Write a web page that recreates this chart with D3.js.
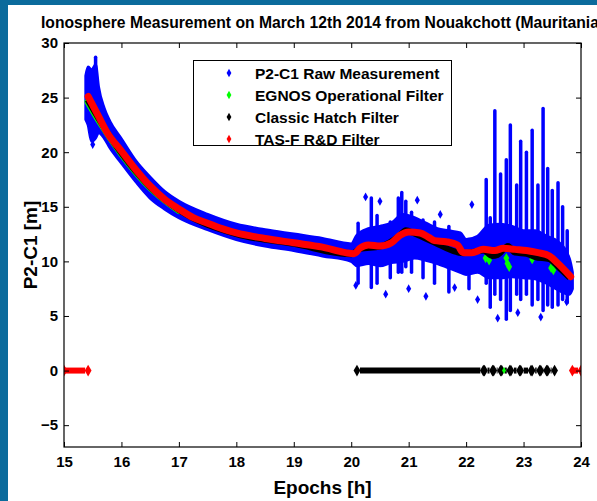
<!DOCTYPE html>
<html><head><meta charset="utf-8">
<script src="https://cdn.jsdelivr.net/npm/d3@7"></script>
<style>
html,body{margin:0;padding:0;background:#fff;}
svg{display:block;}
text{font-family:Arial,"Liberation Sans",sans-serif;}
</style></head>
<body>
<script>
// ---------- data ----------
const title = "Ionosphere Measurement on March 12th 2014 from Nouakchott (Mauritania";
const xLabel = "Epochs [h]";
const yLabel = "P2-C1 [m]";
const xTicks = [15,16,17,18,19,20,21,22,23,24];
const yTicks = [-5,0,5,10,15,20,25,30];
const seriesNames = ["P2-C1 Raw Measurement","EGNOS Operational Filter","Classic Hatch Filter","TAS-F R&D Filter"];
const seriesColors = ["#0000ff","#00ff00","#000000","#ff0000"];

// raw measurement dense cloud envelope
const rawEpochs = [15.38,15.42,15.48,15.55,15.6,15.7,15.8,16.0,16.25,16.5,16.75,17.0,17.5,18.0,18.5,19.0,19.5,20.0,20.1,20.3,20.5,20.7,20.9,21.1,21.3,21.5,21.7,21.9,22.0,22.2,22.4,22.6,22.8,23.0,23.2,23.4,23.6,23.8,23.85];
const rawLow    = [23.0,22.5,21.0,21.3,21.8,21.3,20.4,19.0,17.3,15.8,14.8,14.0,12.9,12.0,11.4,11.0,10.5,10.0,9.6,9.8,9.6,9.9,10.0,10.3,10.1,9.8,9.4,9.0,8.8,9.0,8.5,8.5,8.6,8.5,8.4,8.0,7.4,7.0,7.5];
const rawHigh   = [27.0,27.8,27.5,28.0,26.0,24.0,22.8,21.2,19.2,17.7,16.4,15.5,14.3,13.4,12.9,12.5,12.1,11.6,12.4,13.0,13.2,13.5,14.3,14.0,13.5,13.0,12.8,12.6,12.0,12.3,13.3,13.4,13.2,12.8,12.8,12.3,11.8,10.2,9.0];

// raw measurement vertical columns (epoch, low, high)
const spikeEpochs = [15.55,20.12,20.35,20.45,20.68,20.82,20.88,20.95,21.05,21.25,21.45,21.7,22.05,22.35,22.42,22.5,22.6,22.7,22.77,22.88,22.95,23.05,23.15,23.25,23.34,23.42,23.5,23.6,23.68,23.76];
const spikeLow    = [26.0,8.0,7.6,8.0,8.5,9.0,9.0,9.5,9.0,8.5,8.0,7.2,7.5,8.0,5.8,7.0,6.5,4.7,5.5,7.0,6.5,7.0,6.0,6.5,5.5,6.0,5.8,6.0,6.5,6.2];
const spikeHigh   = [28.7,13.5,15.8,14.2,13.6,15.8,16.3,15.5,14.5,13.8,13.6,13.2,12.0,17.5,14.0,23.8,18.0,19.3,22.5,17.0,21.0,20.0,22.0,17.0,24.0,18.5,16.5,17.2,15.0,12.8];

// raw measurement isolated points
const outlierEpochs = [15.5,20.08,20.25,20.6,21.0,21.3,21.55,21.8,22.1,22.2,22.55,22.9,23.3,23.75,20.5,21.15];
const outlierValues = [20.7,7.8,15.9,7.0,7.5,6.8,14.3,7.6,15.2,6.5,4.8,5.3,4.9,6.3,15.5,15.6];

// TAS-F R&D filter
const tasEpochs = [15.42,15.5,15.6,15.75,16.0,16.25,16.5,16.75,17.0,17.25,17.5,17.75,18.0,18.5,19.0,19.5,19.9,20.05,20.15,20.3,20.5,20.7,20.85,21.0,21.2,21.35,21.45,21.65,21.85,21.95,22.1,22.3,22.5,22.65,22.85,23.05,23.25,23.45,23.6,23.82];
const tasValues = [25.1,24.3,23.3,21.8,20.1,18.4,16.9,15.7,14.8,14.0,13.5,13.0,12.6,12.1,11.7,11.3,10.8,10.7,11.2,11.5,11.4,11.7,12.4,12.7,12.6,12.2,11.9,11.8,11.5,10.8,10.8,11.1,11.0,11.2,11.1,11.0,10.8,10.5,9.8,8.6];
const tasZeroStart = [15.0,23.85];
const tasZeroEnd   = [15.42,24.0];

// Classic Hatch filter
const hatchEpochs = [15.41,15.6,16.0,16.5,17.0,18.0,19.0,20.0,20.15,20.5,20.85,20.95,21.1,21.4,21.95,22.3,22.45,22.55,22.73,22.85,23.05,23.2,23.45,23.6,23.8];
const hatchValues = [24.8,23.1,19.9,16.8,14.7,12.5,11.6,10.65,11.15,11.35,12.4,12.85,12.55,11.85,10.75,11.0,10.5,10.6,11.4,10.8,10.7,10.4,10.2,9.5,8.5];
const hatchZeroStart = [20.1,22.32,22.48,22.62,22.78,22.95,23.15,23.3,23.42];
const hatchZeroEnd   = [22.3,22.46,22.6,22.76,22.93,23.13,23.28,23.4,23.54];

// EGNOS operational filter
const egnosEpochs = [15.41,15.6,16.0,16.5,17.0];
const egnosValues = [24.6,22.9,19.8,16.7,14.6];
const egnosPatchEpochs = [22.34,22.4,22.7,22.72,22.75,23.15,23.48,23.52];
const egnosPatchValues = [10.3,10.1,10.3,9.8,9.5,10.2,9.4,9.2];
const egnosZeroEpochs = [22.66];

// ---------- chart ----------
const W = 597, H = 501;
const m = {left:64, right:581, top:43, bottom:447};
const svg = d3.select("body").append("svg").attr("width",W).attr("height",H);

svg.append("rect").attr("x",0).attr("y",0).attr("width",W).attr("height",H).attr("fill","#0b6b9c");
svg.append("rect").attr("x",8).attr("y",5).attr("width",W-8).attr("height",H-5).attr("fill","#fff");

const x = d3.scaleLinear().domain([15,24]).range([m.left,m.right]);
const y = d3.scaleLinear().domain([-7,30]).range([m.bottom,m.top]);

svg.append("clipPath").attr("id","clip").append("rect")
  .attr("x",m.left).attr("y",m.top).attr("width",m.right-m.left).attr("height",m.bottom-m.top);
const g = svg.append("g").attr("clip-path","url(#clip)");

const BLUE = seriesColors[0];
const rawData = rawEpochs.map((e,i)=>({e,lo:rawLow[i],hi:rawHigh[i]}));
g.append("path").datum(rawData)
  .attr("d", d3.area().x(d=>x(d.e)).y0(d=>y(d.lo)).y1(d=>y(d.hi)).curve(d3.curveMonotoneX))
  .attr("fill",BLUE).attr("stroke",BLUE).attr("stroke-width",3).attr("stroke-linejoin","round");
g.selectAll("line.spike").data(spikeEpochs).join("line").attr("class","spike")
  .attr("x1",d=>x(d)).attr("x2",d=>x(d))
  .attr("y1",(d,i)=>y(spikeLow[i])).attr("y2",(d,i)=>y(spikeHigh[i]))
  .attr("stroke",BLUE).attr("stroke-width",3.5).attr("stroke-linecap","round");
const diamond = d3.symbol().type(d3.symbolDiamond);
g.selectAll("path.out").data(outlierEpochs).join("path").attr("class","out")
  .attr("transform",(d,i)=>`translate(${x(d)},${y(outlierValues[i])})`)
  .attr("d",diamond.size(22)).attr("fill",BLUE);

const GREEN = seriesColors[1];
const lineGen = d3.line().x(d=>x(d[0])).y(d=>y(d[1])).curve(d3.curveMonotoneX);
g.append("path").datum(egnosEpochs.map((e,i)=>[e,egnosValues[i]]))
  .attr("d",lineGen).attr("fill","none").attr("stroke",GREEN).attr("stroke-width",6).attr("stroke-linecap","round");
g.selectAll("path.eg").data(egnosPatchEpochs).join("path").attr("class","eg")
  .attr("transform",(d,i)=>`translate(${x(d)},${y(egnosPatchValues[i])})`)
  .attr("d",diamond.size(30)).attr("fill",GREEN);

const BLACK = seriesColors[2];
g.append("path").datum(hatchEpochs.map((e,i)=>[e,hatchValues[i]]))
  .attr("d",lineGen).attr("fill","none").attr("stroke",BLACK).attr("stroke-width",6).attr("stroke-linejoin","round");
g.selectAll("line.hz").data(hatchZeroStart).join("line").attr("class","hz")
  .attr("x1",d=>x(d)+3).attr("x2",(d,i)=>x(hatchZeroEnd[i])-3)
  .attr("y1",y(0)).attr("y2",y(0)).attr("stroke",BLACK).attr("stroke-width",6);
g.selectAll("path.hzd").data(hatchZeroStart.concat(hatchZeroEnd)).join("path").attr("class","hzd")
  .attr("transform",d=>`translate(${x(d)},${y(0)})`).attr("d",diamond.size(40)).attr("fill",BLACK);
g.selectAll("path.ez").data(egnosZeroEpochs).join("path").attr("class","ez")
  .attr("transform",d=>`translate(${x(d)},${y(0)})`).attr("d",diamond.size(14)).attr("fill",GREEN);

const RED = seriesColors[3];
g.append("path").datum(tasEpochs.map((e,i)=>[e,tasValues[i]]))
  .attr("d",lineGen).attr("fill","none").attr("stroke",RED).attr("stroke-width",7).attr("stroke-linejoin","round").attr("stroke-linecap","round");
g.selectAll("line.tz").data(tasZeroStart).join("line").attr("class","tz")
  .attr("x1",d=>x(d)).attr("x2",(d,i)=>x(tasZeroEnd[i])-3)
  .attr("y1",y(0)).attr("y2",y(0)).attr("stroke",RED).attr("stroke-width",6);
g.selectAll("path.tzd").data(tasZeroStart.concat(tasZeroEnd)).join("path").attr("class","tzd")
  .attr("transform",d=>`translate(${x(d)},${y(0)})`).attr("d",diamond.size(40)).attr("fill",RED);

svg.append("rect").attr("x",m.left).attr("y",m.top).attr("width",m.right-m.left).attr("height",m.bottom-m.top)
  .attr("fill","none").attr("stroke","#000").attr("stroke-width",1.2);

const tickFont = g2 => g2.selectAll("text").attr("font-size",15).attr("font-weight","bold").attr("fill","#000");
const xb = svg.append("g").attr("transform",`translate(0,${m.bottom})`)
  .call(d3.axisBottom(x).tickValues(xTicks).tickSize(-5).tickPadding(9).tickFormat(d3.format("d")));
xb.select(".domain").remove(); tickFont(xb); xb.selectAll("line").attr("stroke","#000");
const xt = svg.append("g").attr("transform",`translate(0,${m.top})`)
  .call(d3.axisTop(x).tickValues(xTicks).tickSize(-5).tickFormat(""));
xt.select(".domain").remove(); xt.selectAll("line").attr("stroke","#000");
const yl = svg.append("g").attr("transform",`translate(${m.left},0)`)
  .call(d3.axisLeft(y).tickValues(yTicks).tickSize(-5).tickPadding(6).tickFormat(d3.format("d")));
yl.select(".domain").remove(); tickFont(yl); yl.selectAll("line").attr("stroke","#000");
const yr = svg.append("g").attr("transform",`translate(${m.right},0)`)
  .call(d3.axisRight(y).tickValues(yTicks).tickSize(-5).tickFormat(""));
yr.select(".domain").remove(); yr.selectAll("line").attr("stroke","#000");

svg.append("text").attr("x",41).attr("y",28).attr("font-size",15.7).attr("font-weight","bold").text(title);
svg.append("text").attr("x",(m.left+m.right)/2).attr("y",494).attr("text-anchor","middle")
  .attr("font-size",19).attr("font-weight","bold").text(xLabel);
svg.append("text").attr("transform",`translate(37,${(m.top+m.bottom)/2}) rotate(-90)`).attr("text-anchor","middle")
  .attr("font-size",19).attr("font-weight","bold").text(yLabel);

const lg = svg.append("g");
lg.append("rect").attr("x",193.5).attr("y",60.5).attr("width",258).attr("height",85)
  .attr("fill","#fff").attr("stroke","#000").attr("stroke-width",1);
seriesNames.forEach((n,i)=>{
  const yy = 73 + i*22;
  lg.append("path").attr("transform",`translate(229,${yy})`).attr("d",diamond.size(20)).attr("fill",seriesColors[i]);
  lg.append("text").attr("x",255).attr("y",yy+5.5).attr("font-size",15.5).attr("font-weight","bold").text(n);
});
</script>
</body></html>
